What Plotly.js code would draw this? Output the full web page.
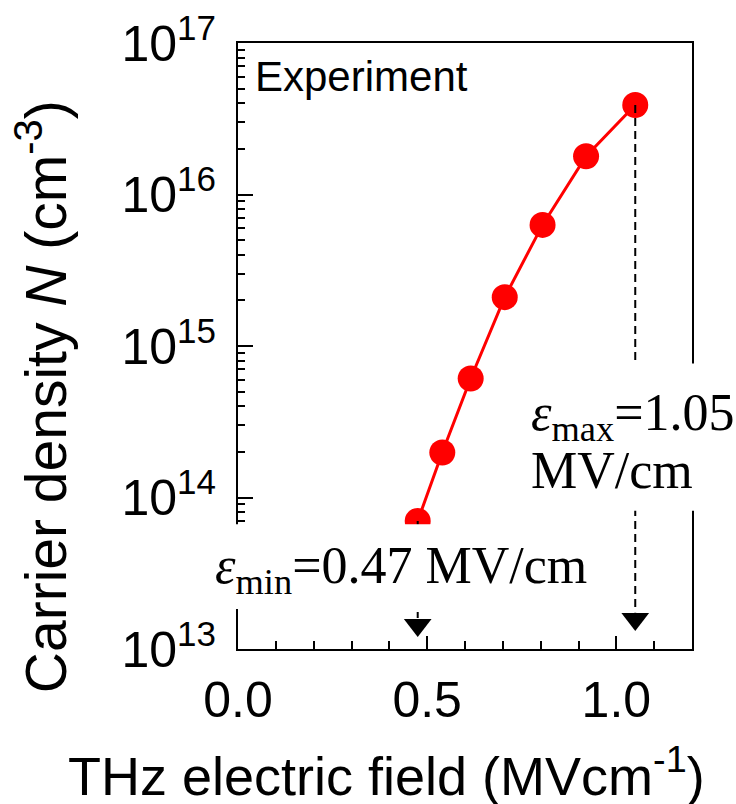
<!DOCTYPE html>
<html>
<head>
<meta charset="utf-8">
<script src="https://cdn.plot.ly/plotly-3.0.1.min.js"></script>
<style>
  html, body { margin: 0; padding: 0; background: #fff; }
  #chart { width: 736px; height: 804px; }
</style>
</head>
<body>
<div id="chart"></div>
<script>
// ---- data ----
const fieldMVcm = [0.475, 0.54, 0.615, 0.705, 0.805, 0.92, 1.05];
const carrierDensity = [7.0e13, 1.98e14, 6.1e14, 2.1e15, 6.3e15, 1.79e16, 3.9e16];
const fieldMin = 0.475;   // ε_min marker position
const fieldMax = 1.05;    // ε_max marker position
const xTickVals = [0.0, 0.5, 1.0];
const xTickText = ['0.0', '0.5', '1.0'];
const yTickVals = [1e13, 1e14, 1e15, 1e16, 1e17];
const yTickExponents = ['13', '14', '15', '16', '17'];
const labelExperiment = 'Experiment';
const labelMaxLine1 = '<i>ε</i><sub>max</sub>=1.05';
const labelMaxLine2 = 'MV/cm';
const labelMin = '<i>ε</i><sub>min</sub>=0.47 MV/cm';
const xTitle = 'THz electric field (MVcm<sup>-1</sup>)';
const yTitle = 'Carrier density <i>N</i> (cm<sup>-3</sup>)';
// arrow geometry (densities where dashed guide ends / arrowhead sits)
const arrowMaxTop = 1.75e13, arrowMaxHead = 1.58e13;
const arrowMinTop = 1.6e13, arrowMinHead = 1.44e13;

const sans = 'Liberation Sans, Arial, sans-serif';
const serif = 'Liberation Serif, Times New Roman, serif';

const yTickText = yTickExponents.map(e => '10<sup>' + e + '</sup>');

const traces = [
  {
    x: fieldMVcm, y: carrierDensity, type: 'scatter', mode: 'lines+markers',
    line: { color: '#ff0000', width: 3 },
    marker: { color: '#ff0000', size: 26 },
    showlegend: false, hoverinfo: 'skip'
  },
  {
    x: [fieldMax, fieldMax], y: [carrierDensity[carrierDensity.length - 1], arrowMaxTop],
    type: 'scatter', mode: 'lines', line: { color: '#000', width: 2, dash: '8px,5px' },
    showlegend: false, hoverinfo: 'skip'
  },
  {
    x: [fieldMin, fieldMin], y: [carrierDensity[0], arrowMinTop],
    type: 'scatter', mode: 'lines', line: { color: '#000', width: 2, dash: '8px,5px' },
    showlegend: false, hoverinfo: 'skip'
  },
  {
    x: [fieldMax, fieldMin], y: [arrowMaxHead, arrowMinHead],
    type: 'scatter', mode: 'markers',
    marker: { symbol: 'triangle-down', size: 24, color: '#000' },
    showlegend: false, hoverinfo: 'skip', cliponaxis: false
  }
];

const layout = {
  width: 736, height: 804,
  margin: { l: 238, r: 44, t: 43, b: 155 },
  paper_bgcolor: '#fff', plot_bgcolor: '#fff',
  showlegend: false,
  font: { family: sans, color: '#000' },
  xaxis: {
    range: [0, 1.2], tickvals: xTickVals, ticktext: xTickText,
    ticks: 'inside', ticklen: 13, tickwidth: 2, tickcolor: '#000',
    minor: { dtick: 0.1, tick0: 0, ticks: 'inside', ticklen: 8, tickwidth: 2, tickcolor: '#000', showgrid: false },
    showline: true, linewidth: 2, linecolor: '#000', mirror: true,
    showgrid: false, zeroline: false,
    tickfont: { family: sans, size: 50, color: '#000' },
    ticklabelstandoff: 6
  },
  yaxis: {
    type: 'log', range: [13, 17], tickvals: yTickVals, ticktext: yTickText,
    ticklabeloverflow: 'allow',
    ticks: 'inside', ticklen: 15, tickwidth: 2, tickcolor: '#000',
    minor: { dtick: 'D1', ticks: 'inside', ticklen: 7, tickwidth: 2, tickcolor: '#000', showgrid: false },
    showline: true, linewidth: 2, linecolor: '#000', mirror: true,
    showgrid: false, zeroline: false,
    tickfont: { family: sans, size: 50, color: '#000' },
    ticklabelstandoff: 10
  },
  shapes: [
    { type: 'rect', xref: 'paper', yref: 'paper', x0: 0.61, x1: 1.03, y0: 0.228, y1: 0.471,
      fillcolor: '#fff', line: { width: 0 }, layer: 'above' },
    { type: 'rect', xref: 'paper', yref: 'paper', x0: -0.09, x1: 0.805, y0: 0.066, y1: 0.206,
      fillcolor: '#fff', line: { width: 0 }, layer: 'above' }
  ],
  annotations: [
    { text: labelExperiment, xref: 'paper', yref: 'paper', x: 0.034, y: 0.944,
      xanchor: 'left', yanchor: 'middle', showarrow: false,
      font: { family: sans, size: 42, color: '#000' } },
    { text: labelMaxLine1, xref: 'paper', yref: 'paper', x: 0.64, y: 0.384,
      xanchor: 'left', yanchor: 'middle', showarrow: false,
      font: { family: serif, size: 52, color: '#000' } },
    { text: labelMaxLine2, xref: 'paper', yref: 'paper', x: 0.64, y: 0.294,
      xanchor: 'left', yanchor: 'middle', showarrow: false,
      font: { family: serif, size: 52, color: '#000' } },
    { text: labelMin, xref: 'paper', yref: 'paper', x: -0.054, y: 0.132,
      xanchor: 'left', yanchor: 'middle', showarrow: false,
      font: { family: serif, size: 52, color: '#000' } },
    { text: xTitle, xref: 'paper', yref: 'paper', x: 0.327, y: -0.203,
      xanchor: 'center', yanchor: 'middle', showarrow: false,
      font: { family: sans, size: 54, color: '#000' } },
    { text: yTitle, xref: 'paper', yref: 'paper', x: -0.432, y: 0.417, textangle: -90,
      xanchor: 'center', yanchor: 'middle', showarrow: false,
      font: { family: sans, size: 57, color: '#000' } }
  ]
};

Plotly.newPlot('chart', traces, layout, { displayModeBar: false, staticPlot: true });
</script>
</body>
</html>
